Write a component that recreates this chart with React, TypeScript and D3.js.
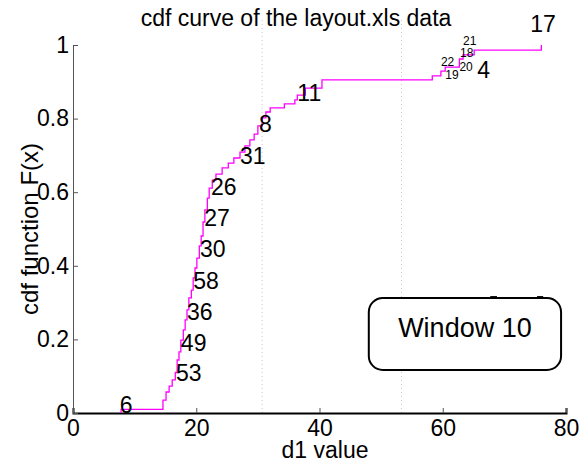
import React, { useEffect, useRef } from 'react';
import * as d3 from 'd3';

const stepX = [7.8, 7.8, 14.6, 15.1, 15.6, 16.1, 16.6, 16.9, 17.2, 17.5, 17.9, 18.2, 18.5, 18.8, 19.2, 19.5, 19.8, 20.1, 20.5, 20.8, 21.1, 21.4, 21.8, 22.1, 22.6, 23.2, 24.2, 25.2, 26.1, 27.1, 27.9, 28.7, 29.4, 30.0, 30.7, 31.3, 32.0, 34.3, 36.0, 36.4, 37.7, 40.4, 58.3, 59.7, 60.4, 62.7, 63.3, 65.1, 76.0];
const stepF = [0, 0.01, 0.035, 0.057, 0.073, 0.09, 0.11, 0.144, 0.166, 0.198, 0.226, 0.253, 0.28, 0.313, 0.334, 0.367, 0.394, 0.421, 0.454, 0.481, 0.519, 0.552, 0.584, 0.611, 0.633, 0.649, 0.666, 0.679, 0.693, 0.709, 0.726, 0.742, 0.758, 0.78, 0.802, 0.818, 0.829, 0.84, 0.851, 0.864, 0.883, 0.905, 0.916, 0.929, 0.94, 0.962, 0.973, 0.986, 1.0];

// point labels
const bigLabels = ['6', '53', '49', '36', '58', '30', '27', '26', '31', '8', '11', '4', '17'];
const bigLabelX = [7.6, 16.7, 17.5, 18.5, 19.5, 20.6, 21.3, 22.4, 27.1, 30.2, 36.4, 65.6, 74.2];
const bigLabelF = [0.022, 0.109, 0.19, 0.274, 0.359, 0.446, 0.53, 0.614, 0.698, 0.785, 0.87, 0.932, 1.057];
const smallLabels = ['21', '18', '22', '20', '19'];
const smallLabelX = [63.3, 62.8, 59.7, 62.7, 60.4];
const smallLabelF = [1.012, 0.98, 0.954, 0.94, 0.918];

const xTicks = [0, 20, 40, 60, 80];
const yTicks = [0, 0.2, 0.4, 0.6, 0.8, 1];
const windowLines = [30.7, 53.3];

const FONT = 'Liberation Sans, Arial, Helvetica, sans-serif';

const App: React.FC = () => {
    const ref = useRef<SVGSVGElement>(null);

    useEffect(() => {
        if (!ref.current) return;
        const svg = d3.select(ref.current);
        svg.selectAll('*').remove();

        const width = 584;
        const height = 463;
        const margin = { top: 45, right: 18, bottom: 50, left: 73 };

        const x = d3.scaleLinear().domain([0, 80]).range([margin.left, width - margin.right]);
        const y = d3.scaleLinear().domain([0, 1]).range([height - margin.bottom, margin.top]);

        svg.append('rect').attr('width', width).attr('height', height).attr('fill', '#fff');

        // dotted window boundaries
        svg.selectAll('.wline')
            .data(windowLines)
            .enter()
            .append('line')
            .attr('x1', d => x(d)).attr('x2', d => x(d))
            .attr('y1', y(0)).attr('y2', y(1.07))
            .attr('stroke', '#dcc0cc')
            .attr('stroke-width', 1)
            .attr('stroke-dasharray', '1,3');

        // axes
        const gx = svg.append('g').attr('transform', `translate(0,${y(0)})`)
            .call(d3.axisBottom(x).tickValues(xTicks).tickSize(-5).tickPadding(7).tickFormat(d => String(d)));
        gx.select('.domain').attr('stroke', '#000').attr('stroke-width', 2);
        gx.selectAll('.tick line').attr('stroke', '#555');
        gx.selectAll('text').attr('font-size', 23).attr('font-family', FONT).attr('fill', '#000');

        const gy = svg.append('g').attr('transform', `translate(${x(0)},0)`)
            .call(d3.axisLeft(y).tickValues(yTicks).tickSize(-5).tickPadding(4).tickFormat(d => String(d)));
        gy.select('.domain').attr('stroke', '#555').attr('stroke-width', 1);
        gy.selectAll('.tick line').attr('stroke', '#555');
        gy.selectAll('text').attr('font-size', 23).attr('font-family', FONT).attr('fill', '#000');

        // cdf curve
        const line = d3.line<number>()
            .x((_, i) => x(stepX[i]))
            .y(d => y(d))
            .curve(d3.curveStepAfter);
        svg.append('path')
            .attr('d', line(stepF))
            .attr('fill', 'none')
            .attr('stroke', '#f0f')
            .attr('stroke-width', 1.3);

        // labels
        svg.selectAll('.big')
            .data(bigLabels)
            .enter()
            .append('text')
            .attr('x', (_, i) => x(bigLabelX[i]))
            .attr('y', (_, i) => y(bigLabelF[i]))
            .attr('dy', '0.36em')
            .attr('font-size', 23)
            .attr('font-family', FONT)
            .text(d => d);

        svg.selectAll('.small')
            .data(smallLabels)
            .enter()
            .append('text')
            .attr('x', (_, i) => x(smallLabelX[i]))
            .attr('y', (_, i) => y(smallLabelF[i]))
            .attr('dy', '0.36em')
            .attr('font-size', 12)
            .attr('font-family', FONT)
            .text(d => d);

        // title and axis labels
        svg.append('text')
            .attr('x', 296)
            .attr('y', 26)
            .attr('text-anchor', 'middle')
            .attr('font-size', 23)
            .attr('font-family', FONT)
            .text('cdf curve of the layout.xls data');

        svg.append('text')
            .attr('x', 325)
            .attr('y', 458)
            .attr('text-anchor', 'middle')
            .attr('font-size', 23)
            .attr('font-family', FONT)
            .text('d1 value');

        svg.append('text')
            .attr('transform', `translate(38,${(y(0) + y(1)) / 2}) rotate(-90)`)
            .attr('text-anchor', 'middle')
            .attr('font-size', 24)
            .attr('font-family', FONT)
            .text('cdf function F(x)');

        // annotation box
        svg.append('line').attr('x1', x(67.7)).attr('x2', x(68.8)).attr('y1', y(0.315)).attr('y2', y(0.315))
            .attr('stroke', '#000').attr('stroke-width', 2);
        svg.append('line').attr('x1', x(75.3)).attr('x2', x(76.3)).attr('y1', y(0.315)).attr('y2', y(0.315))
            .attr('stroke', '#000').attr('stroke-width', 2);
        svg.append('rect')
            .attr('x', x(48.0)).attr('y', y(0.3125))
            .attr('width', x(79.2) - x(48.0)).attr('height', y(0.117) - y(0.3125))
            .attr('rx', 14).attr('ry', 14)
            .attr('fill', '#fff').attr('stroke', '#000').attr('stroke-width', 2);
        svg.append('text')
            .attr('x', x((48.0 + 79.2) / 2))
            .attr('y', y(0.233))
            .attr('dy', '0.36em')
            .attr('text-anchor', 'middle')
            .attr('font-size', 27)
            .attr('font-family', FONT)
            .text('Window 10');
    }, []);

    return (
        <div style={{ position: 'absolute', left: 0, top: 0 }}>
            <svg ref={ref} width={584} height={463} style={{ display: 'block' }}></svg>
        </div>
    );
};

export default App;
